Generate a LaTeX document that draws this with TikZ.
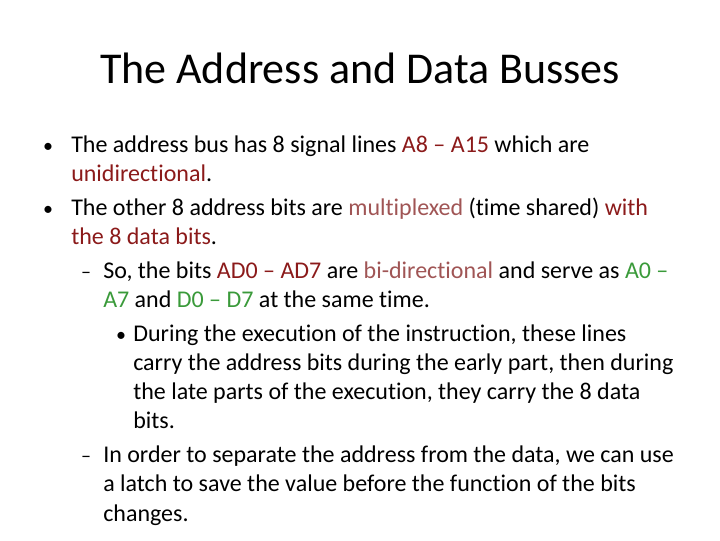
\documentclass[tikz,border=0pt]{standalone}
\usepackage{fontspec}
\setmainfont{Carlito}[RawFeature={-liga}]
\definecolor{busred}{HTML}{8B1A1A}
\definecolor{busrose}{HTML}{A05555}
\definecolor{busgreen}{HTML}{3A9A3A}
\tikzset{
  bodyline/.style={anchor=base west, inner sep=0pt, font=\fontsize{18}{21}\selectfont},
  bulletmark/.style={anchor=base, inner sep=0pt, font=\fontsize{15}{18}\selectfont}
}
\begin{document}
\begin{tikzpicture}[x=0.75pt,y=-0.75pt]
\useasboundingbox (0,0) rectangle (720,540);

% Title
\node[inner sep=0pt, font=\fontsize{33}{38}\selectfont] (title) at (360,68) {The Address and Data Busses};

% Bullet marks
\node[bulletmark] (b1) at (48,152) {\textbullet};
\node[bulletmark] (b2) at (48,215) {\textbullet};
\node[bulletmark] (d1) at (86,278) {--};
\node[bulletmark] (b3) at (121,341) {\textbullet};
\node[bulletmark] (d2) at (86,462) {--};

% Text lines
\node[bodyline] (l1) at (71,152) {The address bus has 8 signal lines \textcolor{busred}{A8 -- A15} which are};
\node[bodyline] (l2) at (71,181) {\textcolor{busred}{unidirectional}.};
\node[bodyline] (l3) at (71,215) {The other 8 address bits are \textcolor{busrose}{multiplexed} (time shared) \textcolor{busred}{with}};
\node[bodyline] (l4) at (71,244) {\textcolor{busred}{the 8 data bits}.};
\node[bodyline] (l5) at (103,278) {So, the bits \textcolor{busred}{AD0 -- AD7} are \textcolor{busrose}{bi-directional} and serve as \textcolor{busgreen}{A0 --}};
\node[bodyline] (l6) at (103,307) {\textcolor{busgreen}{A7} and \textcolor{busgreen}{D0 -- D7} at the same time.};
\node[bodyline] (l7) at (133,341) {During the execution of the instruction, these lines};
\node[bodyline] (l8) at (133,370) {carry the address bits during the early part, then during};
\node[bodyline] (l9) at (133,399) {the late parts of the execution, they carry the 8 data};
\node[bodyline] (l10) at (133,428) {bits.};
\node[bodyline] (l11) at (103,462) {In order to separate the address from the data, we can use};
\node[bodyline] (l12) at (103,491) {a latch to save the value before the function of the bits};
\node[bodyline] (l13) at (103,521) {changes.};
\end{tikzpicture}
\end{document}
